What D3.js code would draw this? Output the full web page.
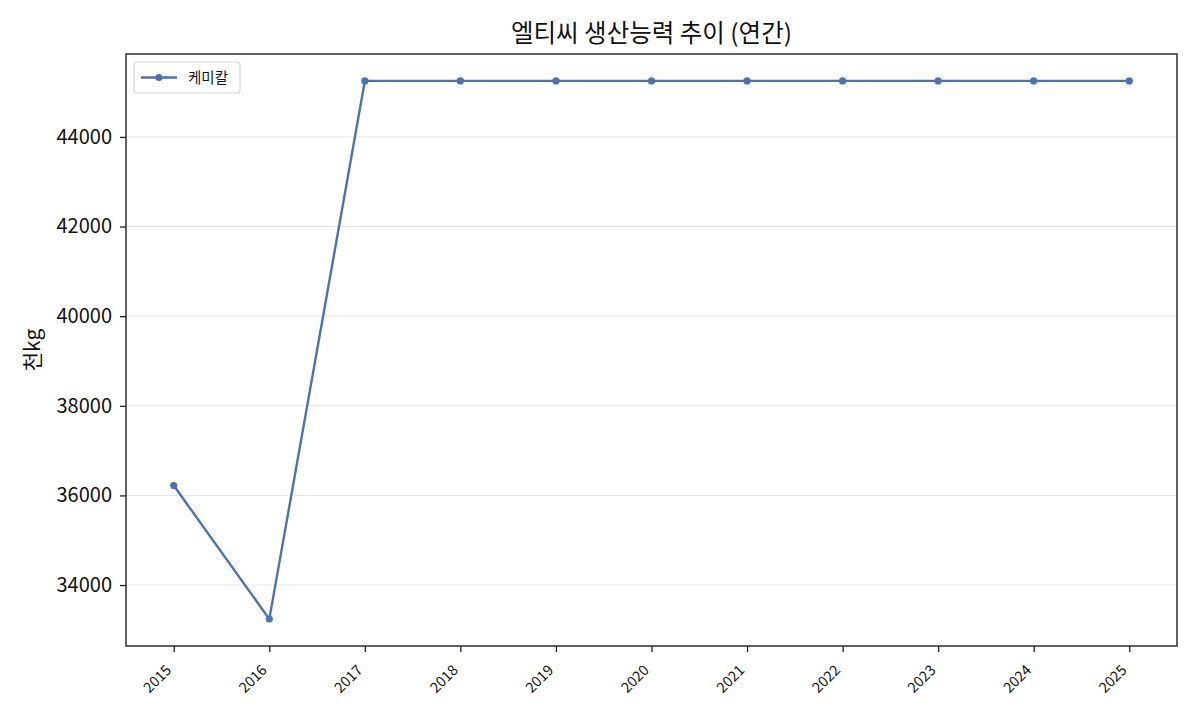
<!DOCTYPE html>
<html>
<head>
<meta charset="utf-8">
<script src="https://cdn.jsdelivr.net/npm/d3@7"></script>
<style>
  body { margin: 0; background: #fff; }
  svg, svg text { font-family: "Noto Sans CJK KR", "Noto Sans", sans-serif; }
</style>
</head>
<body>
<svg id="chart"></svg>
<script>
'use strict';

var CHART_WIDTH = 1200;
var CHART_HEIGHT = 720;
var CHART_MARGIN = { top: 54, right: 23, bottom: 74, left: 126 };

// data
var years = [2015, 2016, 2017, 2018, 2019, 2020, 2021, 2022, 2023, 2024, 2025];
var capacity = [36220, 33240, 45250, 45250, 45250, 45250, 45250, 45250, 45250, 45250, 45250];
var yTicks = [34000, 36000, 38000, 40000, 42000, 44000];
var seriesName = "케미칼";
var chartTitle = "엘티씨 생산능력 추이 (연간)";
var yLabel = "천kg";

var LINE_COLOR = "#4c72b0";

var width = CHART_WIDTH - CHART_MARGIN.left - CHART_MARGIN.right;
var height = CHART_HEIGHT - CHART_MARGIN.top - CHART_MARGIN.bottom;

var svg = d3.select("#chart")
    .attr("width", CHART_WIDTH)
    .attr("height", CHART_HEIGHT);

// matplotlib-like 5% padding
var xMin = d3.min(years), xMax = d3.max(years);
var xPad = (xMax - xMin) * 0.05;
var xScale = d3.scaleLinear()
    .domain([xMin - xPad, xMax + xPad])
    .range([0, width]);

var yMin = d3.min(capacity), yMax = d3.max(capacity);
var yPad = (yMax - yMin) * 0.05;
var yScale = d3.scaleLinear()
    .domain([yMin - yPad, yMax + yPad])
    .range([height, 0]);

var g = svg.append("g")
    .attr("transform", "translate(" + CHART_MARGIN.left + "," + CHART_MARGIN.top + ")");

// grid
g.append("g")
    .selectAll("line")
    .data(yTicks)
    .enter()
    .append("line")
    .attr("x1", 0)
    .attr("x2", width)
    .attr("y1", function (d) { return yScale(d); })
    .attr("y2", function (d) { return yScale(d); })
    .attr("stroke", "#e5e5e5")
    .attr("stroke-width", 1);

// axes
var yAxis = d3.axisLeft(yScale)
    .tickValues(yTicks)
    .tickSize(6)
    .tickPadding(8)
    .tickFormat(d3.format("d"));
var yG = g.append("g").call(yAxis)
    .attr("font-family", null);
yG.select(".domain").remove();
yG.selectAll("text")
    .attr("font-size", 20)
    .attr("fill", "#111");
yG.selectAll("line").attr("stroke", "#222").attr("stroke-width", 1.3);

var xAxis = d3.axisBottom(xScale)
    .tickValues(years)
    .tickSize(6)
    .tickFormat(d3.format("d"));
var xG = g.append("g")
    .attr("transform", "translate(0," + height + ")")
    .call(xAxis)
    .attr("font-family", null);
xG.select(".domain").remove();
xG.selectAll("line").attr("stroke", "#222").attr("stroke-width", 1.3);
xG.selectAll("text")
    .attr("font-size", 14.5)
    .attr("fill", "#111")
    .attr("text-anchor", "end")
    .attr("dy", null)
    .attr("y", 0)
    .attr("transform", "translate(-2,25) rotate(-45)");

// frame
g.append("rect")
    .attr("width", width)
    .attr("height", height)
    .attr("fill", "none")
    .attr("stroke", "#222")
    .attr("stroke-width", 1.4);

// series
var points = years.map(function (y, i) { return [y, capacity[i]]; });
var line = d3.line()
    .x(function (d) { return xScale(d[0]); })
    .y(function (d) { return yScale(d[1]); });

g.append("path")
    .datum(points)
    .attr("d", line)
    .attr("fill", "none")
    .attr("stroke", LINE_COLOR)
    .attr("stroke-width", 2.4);

g.selectAll("circle.pt")
    .data(points)
    .enter()
    .append("circle")
    .attr("class", "pt")
    .attr("cx", function (d) { return xScale(d[0]); })
    .attr("cy", function (d) { return yScale(d[1]); })
    .attr("r", 3.6)
    .attr("fill", LINE_COLOR);

// legend
var legend = g.append("g").attr("transform", "translate(8,8)");
legend.append("rect")
    .attr("width", 106)
    .attr("height", 31)
    .attr("rx", 3)
    .attr("fill", "#fff")
    .attr("stroke", "#d5d5d5")
    .attr("stroke-width", 1.2);
legend.append("line")
    .attr("x1", 7).attr("x2", 43)
    .attr("y1", 15.5).attr("y2", 15.5)
    .attr("stroke", LINE_COLOR)
    .attr("stroke-width", 2.4);
legend.append("circle")
    .attr("cx", 25).attr("cy", 15.5)
    .attr("r", 3.6)
    .attr("fill", LINE_COLOR);
legend.append("text")
    .attr("x", 54).attr("y", 21)
    .attr("font-size", 14.5)
    .attr("fill", "#111")
    .text(seriesName);

// title
svg.append("text")
    .attr("x", CHART_MARGIN.left + width / 2)
    .attr("y", 42)
    .attr("text-anchor", "middle")
    .attr("font-size", 24.5)
    .attr("fill", "#111")
    .text(chartTitle);

// y label
svg.append("text")
    .attr("transform", "translate(40," + (CHART_MARGIN.top + height / 2) + ") rotate(-90)")
    .attr("text-anchor", "middle")
    .attr("font-size", 21)
    .attr("fill", "#111")
    .text(yLabel);
</script>
</body>
</html>
